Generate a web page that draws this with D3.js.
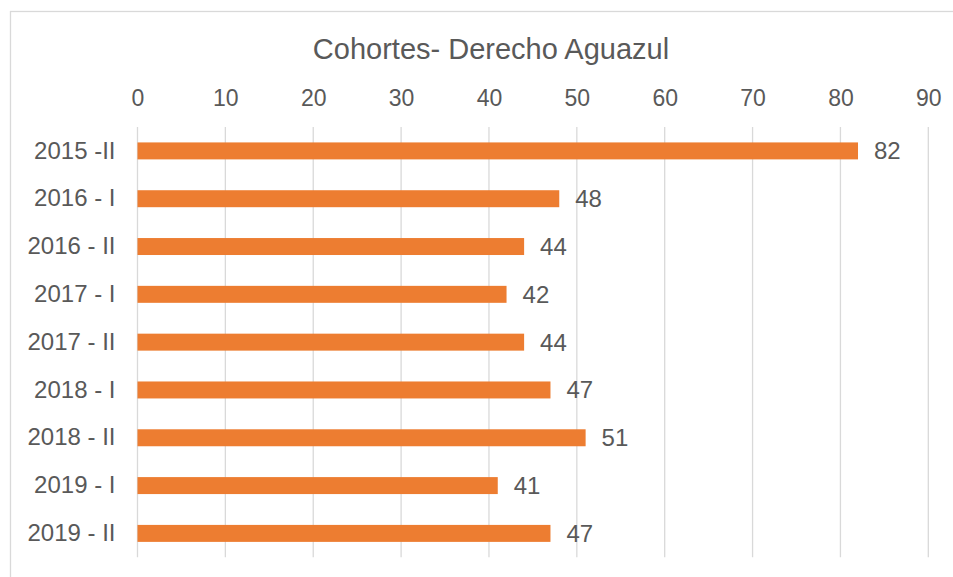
<!DOCTYPE html>
<html>
<head>
<meta charset="utf-8">
<script src="https://cdn.jsdelivr.net/npm/d3@7"></script>
<style>
  body { margin: 0; background: #fff; }
  text { font-family: "Liberation Sans", Arial, sans-serif; fill: #595959; }
</style>
</head>
<body>
<div id="chart"></div>
<script>
// cohort labels and counts, top to bottom
var cohorts = ["2015 -II", "2016 - I", "2016 - II", "2017 - I", "2017 - II",
               "2018 - I", "2018 - II", "2019 - I", "2019 - II"];
var students = [82, 48, 44, 42, 44, 47, 51, 41, 47];
var xTicks = [0, 10, 20, 30, 40, 50, 60, 70, 80, 90];
var chartTitle = "Cohortes- Derecho Aguazul";

var width = 953, height = 577;
var margin = { top: 127, right: 25, bottom: 20, left: 137.5 };

var svg = d3.select("#chart").append("svg")
    .attr("width", width)
    .attr("height", height);

// outer chart frame
svg.append("rect")
    .attr("x", 10.5).attr("y", 11.5)
    .attr("width", 960).attr("height", 600)
    .attr("fill", "none")
    .attr("stroke", "#d9d9d9")
    .attr("stroke-width", 1.3);

var x = d3.scaleLinear()
    .domain([0, 90])
    .range([margin.left, 928.3]);

var y = d3.scaleBand()
    .domain(cohorts)
    .range([margin.top, 557.3])
    .padding(0);

// vertical gridlines
svg.append("g").selectAll("line")
    .data(xTicks)
    .enter().append("line")
    .attr("x1", function (d) { return x(d); })
    .attr("x2", function (d) { return x(d); })
    .attr("y1", margin.top)
    .attr("y2", 557.3)
    .attr("stroke", "#d9d9d9")
    .attr("stroke-width", 1.3);

// top axis labels
var xAxis = d3.axisTop(x).tickValues(xTicks).tickSize(0).tickPadding(0);
var gx = svg.append("g")
    .attr("transform", "translate(0,106)")
    .call(xAxis);
gx.select(".domain").remove();
gx.selectAll("text")
    .style("font-size", "23px")
    .style("font-family", "'Liberation Sans', Arial, sans-serif")
    .attr("fill", "#595959");

// category labels
var yAxis = d3.axisLeft(y).tickSize(0).tickPadding(22);
var gy = svg.append("g")
    .attr("transform", "translate(" + margin.left + ",0)")
    .call(yAxis);
gy.select(".domain").remove();
gy.selectAll("text")
    .style("font-size", "24px")
    .style("font-family", "'Liberation Sans', Arial, sans-serif")
    .attr("fill", "#595959");

var barH = y.bandwidth() * 0.355;

var rows = cohorts.map(function (c, i) { return { cohort: c, value: students[i] }; });

svg.append("g").selectAll("rect")
    .data(rows)
    .enter().append("rect")
    .attr("x", x(0))
    .attr("y", function (d) { return y(d.cohort) + (y.bandwidth() - barH) / 2; })
    .attr("width", function (d) { return x(d.value) - x(0); })
    .attr("height", barH)
    .attr("fill", "#ed7d31");

// value labels
svg.append("g").selectAll("text")
    .data(rows)
    .enter().append("text")
    .attr("x", function (d) { return x(d.value) + 16; })
    .attr("y", function (d) { return y(d.cohort) + y.bandwidth() / 2; })
    .attr("dy", "0.35em")
    .style("font-size", "24px")
    .text(function (d) { return d.value; });

svg.append("text")
    .attr("x", 491)
    .attr("y", 59)
    .attr("text-anchor", "middle")
    .style("font-size", "29px")
    .text(chartTitle);
</script>
</body>
</html>
